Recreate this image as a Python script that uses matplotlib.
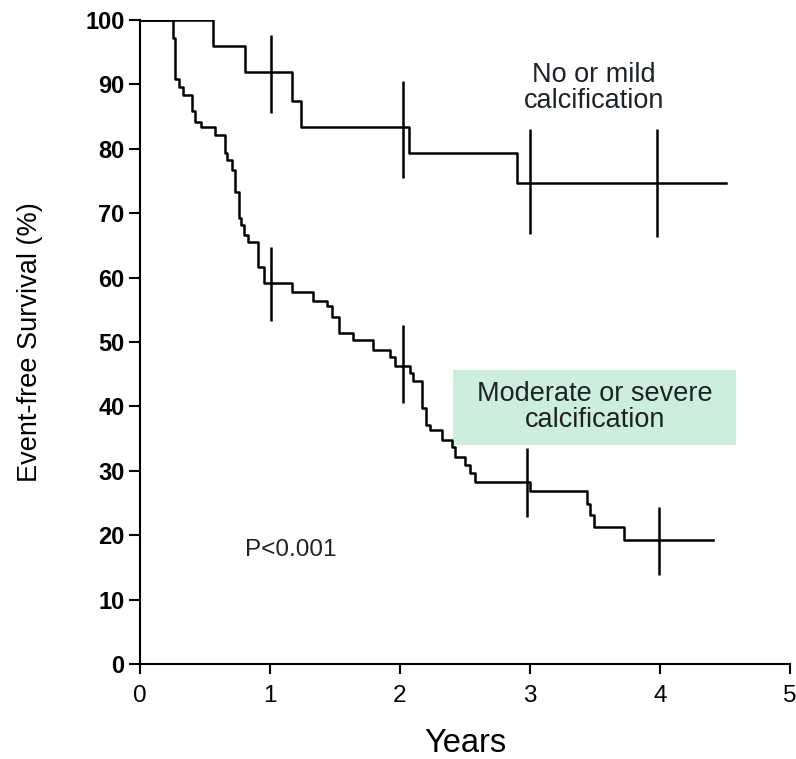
import matplotlib
matplotlib.use("Agg")
import matplotlib.pyplot as plt
from matplotlib.patches import Rectangle

plt.rcParams['font.family'] = ['Liberation Sans', 'DejaVu Sans']

# Kaplan-Meier curve: no or mild calcification
mild_time = [0, 0.56, 0.81, 1.17, 1.24, 2.07, 2.90, 4.51]
mild_surv = [100, 96.0, 92.0, 87.4, 83.4, 79.3, 74.7, 74.7]

# Kaplan-Meier curve: moderate or severe calcification
severe_time = [0, 0.25, 0.27, 0.30, 0.33, 0.40, 0.42, 0.47, 0.58, 0.65, 0.67,
               0.705, 0.73, 0.76, 0.78, 0.80, 0.83, 0.91, 0.95, 1.17, 1.33,
               1.44, 1.48, 1.53, 1.64, 1.79, 1.92, 1.96, 2.08, 2.10, 2.17,
               2.20, 2.23, 2.32, 2.40, 2.42, 2.50, 2.54, 2.58, 3.00, 3.44,
               3.46, 3.49, 3.72, 4.41]
severe_surv = [100, 97.2, 90.8, 89.6, 88.4, 85.8, 84.2, 83.4, 82.1, 79.3, 78.3,
               76.7, 73.3, 69.2, 68.2, 66.6, 65.6, 61.7, 59.1, 57.8, 56.4,
               55.6, 53.9, 51.4, 50.3, 48.8, 47.7, 46.2, 45.2, 43.9, 39.7,
               37.1, 36.3, 34.8, 33.7, 32.2, 30.9, 29.6, 28.3, 26.8, 24.9,
               23.1, 21.2, 19.2, 19.2]

# Interval bars at yearly marks
mild_bar_x = [1.01, 2.02, 3.00, 3.98]
mild_bar_lo = [85.6, 75.5, 66.8, 66.3]
mild_bar_hi = [97.7, 90.6, 83.1, 83.1]
severe_bar_x = [1.01, 2.02, 2.98, 3.99]
severe_bar_lo = [53.2, 40.5, 22.9, 13.8]
severe_bar_hi = [64.8, 52.6, 33.5, 24.4]

x_ticks = [0, 1, 2, 3, 4, 5]
y_ticks = [0, 10, 20, 30, 40, 50, 60, 70, 80, 90, 100]

label_mild = "No or mild\ncalcification"
label_severe = "Moderate or severe\ncalcification"
p_text = "P<0.001"

fig = plt.figure(figsize=(7.96, 7.59), dpi=100)
ax = fig.add_axes([140/796, 95/759, 650/796, 644/759])

lw = 1.8
ax.step(mild_time, mild_surv, where='post', color='black', lw=lw, zorder=3)
ax.step(severe_time, severe_surv, where='post', color='black', lw=lw, zorder=3)
ax.vlines(mild_bar_x, mild_bar_lo, mild_bar_hi, color='black', lw=lw, zorder=3)
ax.vlines(severe_bar_x, severe_bar_lo, severe_bar_hi, color='black', lw=lw, zorder=3)

ax.add_patch(Rectangle((2.408, 34.0), 2.177, 11.65, facecolor='#cdeedd',
                       edgecolor='none', zorder=1))

txtc = '#1c2226'
ax.text(3.49, 89.5, label_mild, ha='center', va='center', fontsize=19.5,
        color=txtc, linespacing=1.0)
ax.text(3.50, 39.9, label_severe, ha='center', va='center', fontsize=19.5,
        color=txtc, linespacing=1.0, zorder=2)
ax.text(1.16, 17.7, p_text, ha='center', va='center', fontsize=17.5, color=txtc)

ax.set_xlim(0, 5)
ax.set_ylim(0, 100)
ax.set_xticks(x_ticks)
ax.set_yticks(y_ticks)
ax.spines['top'].set_visible(False)
ax.spines['right'].set_visible(False)
for s in ['left', 'bottom']:
    ax.spines[s].set_linewidth(1.5)
ax.tick_params(axis='y', length=8, width=1.5, pad=3, labelsize=17)
ax.tick_params(axis='x', length=7, width=1.5, pad=8, labelsize=17.5)
for lab in ax.get_yticklabels():
    lab.set_fontweight('bold')

ax.set_xlabel("Years", fontsize=23.5)
ax.set_ylabel("Event-free Survival (%)", fontsize=19.5)
ax.xaxis.set_label_coords(0.5, -0.124)
ax.xaxis.label.set_va('center')
ax.yaxis.set_label_coords(-0.169, 0.5)
ax.yaxis.label.set_va('center')

fig.savefig("out.png", dpi=100)
